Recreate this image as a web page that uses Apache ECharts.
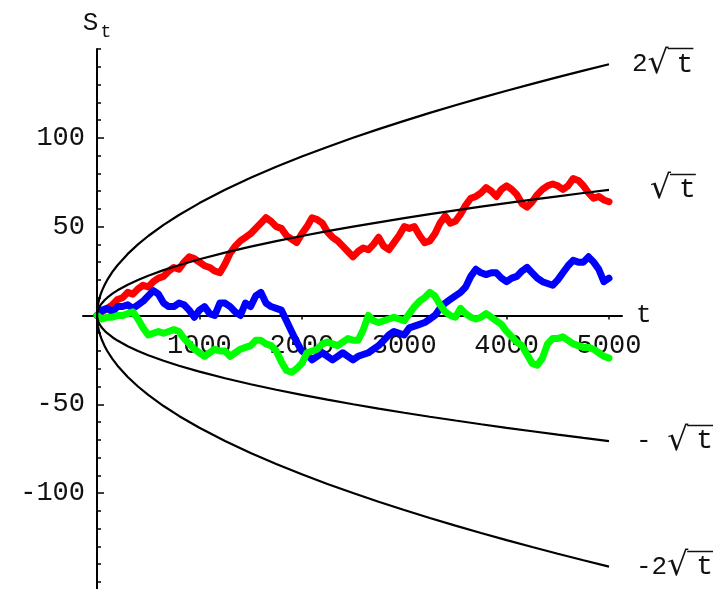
<!DOCTYPE html>
<html>
<head>
<meta charset="utf-8">
<script src="https://cdn.jsdelivr.net/npm/echarts@6/dist/echarts.min.js"></script>
<style>html,body{margin:0;padding:0;background:#fff}#c{width:719px;height:589px}</style>
</head>
<body>
<div id="c"></div>
<script>
// time steps of the random walks
const walkT = [0,50,100,150,200,250,300,350,400,450,500,550,600,650,700,750,800,850,900,950,
1000,1050,1100,1150,1200,1250,1300,1350,1400,1450,1500,1550,1600,1650,1700,1750,1800,1850,1900,1950,
2000,2050,2100,2150,2200,2250,2300,2350,2400,2450,2500,2550,2600,2650,2700,2750,2800,2850,2900,2950,
3000,3050,3100,3150,3200,3250,3300,3350,3400,3450,3500,3550,3600,3650,3700,3750,3800,3850,3900,3950,
4000,4050,4100,4150,4200,4250,4300,4350,4400,4450,4500,4550,4600,4650,4700,4750,4800,4850,4900,4950,5000];

const redWalk = [0,2,4,6,9,10,13,12,15,17,16,19,21,22,25,27,26,30,33,32,
30,28,27,25,24,29,35,39,42,44,46,49,52,55,53,50,49,45,43,41,
46,50,55,54,52,47,44,42,39,36,33,36,38,37,40,44,39,37,41,45,
50,49,50,45,41,42,46,52,56,52,53,57,62,66,67,69,72,70,67,71,
73,71,68,63,61,64,68,71,73,74,73,71,73,77,76,73,69,66,67,65,64];

const blueWalk = [0,3,4,2,5,5,6,4,6,8,11,14,12,7,5,5,7,6,3,-1,
3,5,1,0,7,7,5,2,0,7,5,11,13,7,5,4,3,-3,-9,-15,
-20,-22,-25,-23,-21,-23,-25,-23,-21,-23,-25,-23,-22,-21,-19,-17,-14,-11,-9,-10,
-11,-7,-6,-5,-4,-2,0,4,7,9,11,13,16,22,26,24,23,24,24,21,
19,21,22,25,27,24,21,19,18,17,20,24,28,31,30,30,33,30,26,19,21];

const greenWalk = [0,-2,-1,-1,0,0,1,2,-2,-7,-11,-10,-9,-10,-9,-8,-9,-13,-16,-19,
-21,-23,-21,-19,-20,-20,-23,-21,-19,-18,-17,-14,-14,-16,-17,-20,-26,-31,-32,-30,
-27,-21,-20,-19,-16,-15,-16,-17,-15,-13,-14,-14,-8,0,-3,-4,-3,-2,-1,-2,
-3,1,5,8,10,13,11,6,2,0,-1,4,1,-1,-2,-1,1,-1,-3,-5,
-9,-12,-15,-17,-22,-27,-28,-24,-16,-13,-13,-12,-14,-16,-17,-18,-18,-19,-21,-23,-24];

// envelope curves
const curveT = [0,2,5,10,20,35,50,75,100,150,200,300,400,500,650,800,1000,1250,1500,1750,2000,2250,2500,2750,3000,3250,3500,3750,4000,4250,4500,4750,5000];
const sqrtVals = [0,1.41,2.24,3.16,4.47,5.92,7.07,8.66,10,12.25,14.14,17.32,20,22.36,25.5,28.28,31.62,35.36,38.73,41.83,44.72,47.43,50,52.44,54.77,57.01,59.16,61.24,63.25,65.19,67.08,68.92,70.71];
const twoSqrtVals = [0,2.83,4.47,6.32,8.94,11.83,14.14,17.32,20,24.49,28.28,34.64,40,44.72,50.99,56.57,63.25,70.71,77.46,83.67,89.44,94.87,100,104.88,109.54,114.02,118.32,122.47,126.49,130.38,134.16,137.84,141.42];
const negSqrtVals = [0,-1.41,-2.24,-3.16,-4.47,-5.92,-7.07,-8.66,-10,-12.25,-14.14,-17.32,-20,-22.36,-25.5,-28.28,-31.62,-35.36,-38.73,-41.83,-44.72,-47.43,-50,-52.44,-54.77,-57.01,-59.16,-61.24,-63.25,-65.19,-67.08,-68.92,-70.71];
const negTwoSqrtVals = [0,-2.83,-4.47,-6.32,-8.94,-11.83,-14.14,-17.32,-20,-24.49,-28.28,-34.64,-40,-44.72,-50.99,-56.57,-63.25,-70.71,-77.46,-83.67,-89.44,-94.87,-100,-104.88,-109.54,-114.02,-118.32,-122.47,-126.49,-130.38,-134.16,-137.84,-141.42];
// curve labels: text before the radical, then "√t"
const labelPre = ['2', '', '- ', '-2'];
const labelDist = [23, 41, 27, 27];

const xTicks = [1000,2000,3000,4000,5000];
const yLabelTicks = [-100,-50,50,100];
const yMinorTicks = [-150,-140,-130,-120,-110,-100,-90,-80,-70,-60,-50,-40,-30,-20,-10,10,20,30,40,50,60,70,80,90,100,110,120,130,140,150];

const FONT = 'Liberation Mono';
const FS = 26, ADV = FS * 0.6, RAD_FS = 33, RAD_W = 29, T_FS = 28, TICK_FS = 27, LABEL_DY = 0;
const pairs = (xs, ys) => xs.map((x, i) => [x, ys[i]]);

const GRID = { left: 83, right: 97, top: 49, bottom: 0 };
const XMIN = -137, XMAX = 5127, YMIN = -154, YMAX = 150;
const W = 719, H = 589;
// distance from the grid edges to the zero lines, so the axes cross at (0,0)
const gridW = W - GRID.left - GRID.right, gridH = H - GRID.top - GRID.bottom;
const xAxisOffset = -gridH * (0 - YMIN) / (YMAX - YMIN);
const yAxisOffset = -gridW * (0 - XMIN) / (XMAX - XMIN);

const curves = [twoSqrtVals, sqrtVals, negSqrtVals, negTwoSqrtVals];

function walk(data, color) {
  return {
    type: 'line', xAxisIndex: 0, yAxisIndex: 0,
    data: pairs(walkT, data), showSymbol: false, z: 3,
    lineStyle: { color: color, width: 7, join: 'round', cap: 'round' },
    animation: false
  };
}
function curve(vals, i) {
  return {
    type: 'line', xAxisIndex: 0, yAxisIndex: 0,
    data: pairs(curveT, vals), showSymbol: false, z: 5,
    lineStyle: { color: '#000', width: 2.2 },
    endLabel: { show: true, distance: labelDist[i], offset: [0, LABEL_DY],
      formatter: () => (labelPre[i] ? '{p|' + labelPre[i] + '}' : '') + '{r|\u221A}{t|t}',
      rich: {
        p: { fontFamily: FONT, fontSize: FS, color: '#111' },
        r: { fontFamily: 'DejaVu Sans', fontSize: RAD_FS, width: RAD_W, color: '#111' },
        t: { fontFamily: FONT, fontSize: T_FS, color: '#111' }
      } },
    animation: false
  };
}

const chart = echarts.init(document.getElementById('c'), null, { renderer: 'canvas' });
chart.setOption({
  backgroundColor: '#fff',
  animation: false,
  grid: Object.assign({ containLabel: false, outerBoundsMode: 'none' }, GRID),
  xAxis: [{
    type: 'value', min: XMIN, max: XMAX, position: 'bottom', offset: xAxisOffset,
    name: 't', nameLocation: 'end', nameGap: 14,
    nameTextStyle: { fontFamily: FONT, fontSize: 26, color: '#111', verticalAlign: 'middle' },
    axisLine: { onZero: false, lineStyle: { color: '#000', width: 2 } },
    axisTick: { show: true, length: 4, customValues: xTicks, lineStyle: { color: '#000', width: 1.5 } },
    axisLabel: { customValues: xTicks, margin: 17, fontFamily: FONT, fontSize: TICK_FS, color: '#111',
      formatter: v => String(v) },
    splitLine: { show: false }
  }],
  yAxis: [{
    type: 'value', min: YMIN, max: YMAX, position: 'left', offset: yAxisOffset,
    name: '{s|S}{sub|t}', nameLocation: 'end', nameGap: 8,
    nameTextStyle: { rich: {
      s: { fontFamily: FONT, fontSize: 26, color: '#111', verticalAlign: 'bottom', padding: [0, 2, 5, 0] },
      sub: { fontFamily: FONT, fontSize: 18, color: '#111', verticalAlign: 'bottom' }
    } },
    axisLine: { onZero: false, lineStyle: { color: '#000', width: 2 } },
    axisTick: { show: true, inside: true, length: 4, customValues: yMinorTicks, lineStyle: { color: '#000', width: 1.5 } },
    axisLabel: { show: false },
    splitLine: { show: false }
  }, {
    type: 'value', min: YMIN, max: YMAX, position: 'left', offset: yAxisOffset,
    axisLine: { show: false, onZero: false },
    axisTick: { show: true, inside: true, length: 7, customValues: yLabelTicks, lineStyle: { color: '#000', width: 1.5 } },
    axisLabel: { customValues: yLabelTicks, margin: 12, fontFamily: FONT, fontSize: TICK_FS, color: '#111',
      formatter: v => String(v) },
    splitLine: { show: false }
  }],
  series: [
    walk(redWalk, '#ff0000'),
    walk(blueWalk, '#0000ff'),
    walk(greenWalk, '#00ff00'),
    curve(twoSqrtVals, 0),
    curve(sqrtVals, 1),
    curve(negSqrtVals, 2),
    curve(negTwoSqrtVals, 3)
  ]
});

// bar of each radical sign in the end labels, placed from the curve end through the axis scales
const bars = curves.map((vals, i) => {
  const end = chart.convertToPixel({ xAxisIndex: 0, yAxisIndex: 0 },
    [curveT[curveT.length - 1], vals[vals.length - 1]]);
  const x0 = end[0] + labelDist[i] + labelPre[i].length * ADV + RAD_W - 9;
  const y0 = Math.round(end[1] + LABEL_DY - 16) + 0.5;
  return { type: 'line', z: 100, silent: true,
    shape: { x1: x0, y1: y0, x2: x0 + T_FS * 0.6 + 9, y2: y0 },
    style: { stroke: '#111', lineWidth: 1.5 } };
});
chart.setOption({ graphic: bars });
</script>
</body>
</html>
